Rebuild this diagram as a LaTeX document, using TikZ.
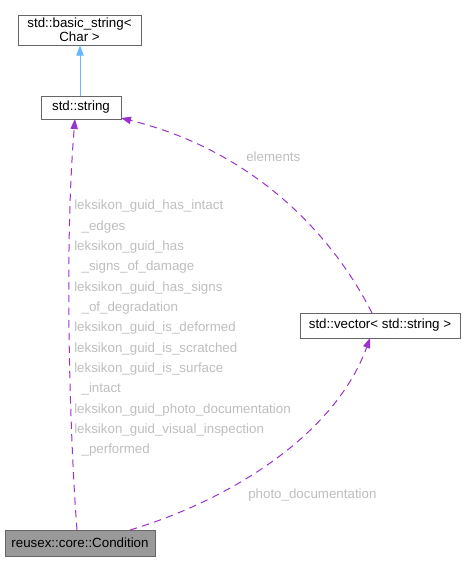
\documentclass[tikz,border=0pt]{standalone}
\usepackage{fontspec}
\setmainfont{Liberation Sans}
\usetikzlibrary{arrows.meta}
\definecolor{boxline}{HTML}{666666}
\definecolor{condfill}{HTML}{999999}
\definecolor{edgepurple}{HTML}{9A32CD}
\definecolor{edgeblue}{HTML}{63B8FF}
\definecolor{lbl}{HTML}{BEBEBE}
\begin{document}
\begin{tikzpicture}[x=0.75pt,y=-0.75pt,
  box/.style={draw=boxline,line width=0.75pt,fill=white,inner sep=0pt,font=\fontsize{10}{12}\selectfont,align=center},
  dep/.style={-{Triangle[length=7.5pt,width=5.5pt,fill=edgepurple]},draw=edgepurple,dash pattern=on 5.5pt off 4pt,line width=0.75pt},
  inh/.style={-{Triangle[length=7.5pt,width=5.5pt,fill=edgeblue]},draw=edgeblue,line width=0.75pt},
  elabel/.style={text=lbl,font=\fontsize{10}{12}\selectfont,inner sep=0pt}]
\useasboundingbox (0,0) rectangle (466,561);
\node[box,minimum width=123*0.75pt,minimum height=30*0.75pt] (bs) at (79.5,30) {std::basic\_string<\\[-1.5pt]Char >};
\node[box,minimum width=80*0.75pt,minimum height=23*0.75pt] (str) at (81,107.5) {std::string};
\node[box,fill=condfill,minimum width=150*0.75pt,minimum height=26*0.75pt] (cond) at (80,543) {reusex::core::Condition};
\node[box,minimum width=160*0.75pt,minimum height=25*0.75pt] (vec) at (380,325.5) {std::vector< std::string >};
\coordinate (strb) at (75,119);
\coordinate (strr) at (121,118);
\coordinate (condt) at (77,530);
\coordinate (condt2) at (130,530);
\coordinate (vect) at (372,313);
\coordinate (vecb) at (370,338);
\draw[inh] (str.north -| 80,0) -- (bs.south -| 80,0);
\draw[dep] (condt) .. controls (70,440) and (64,250) .. (strb);
\draw[dep] (vect) .. controls (330,230) and (250,150) .. (strr);
\draw[dep] (condt2) .. controls (230,500) and (335,435) .. (vecb);
\node[elabel,anchor=west] (lelem) at (246,157) {elements};
\node[elabel,anchor=west] (lphoto) at (248,495) {photo\_documentation};
\node[elabel,anchor=north west,align=left,font=\fontsize{10}{15.25}\selectfont] (lguid) at (74,200) {leksikon\_guid\_has\_intact\\
\hspace*{5.5pt}\_edges\\
leksikon\_guid\_has\\
\hspace*{5.5pt}\_signs\_of\_damage\\
leksikon\_guid\_has\_signs\\
\hspace*{5.5pt}\_of\_degradation\\
leksikon\_guid\_is\_deformed\\
leksikon\_guid\_is\_scratched\\
leksikon\_guid\_is\_surface\\
\hspace*{5.5pt}\_intact\\
leksikon\_guid\_photo\_documentation\\
leksikon\_guid\_visual\_inspection\\
\hspace*{5.5pt}\_performed};
\end{tikzpicture}
\end{document}
